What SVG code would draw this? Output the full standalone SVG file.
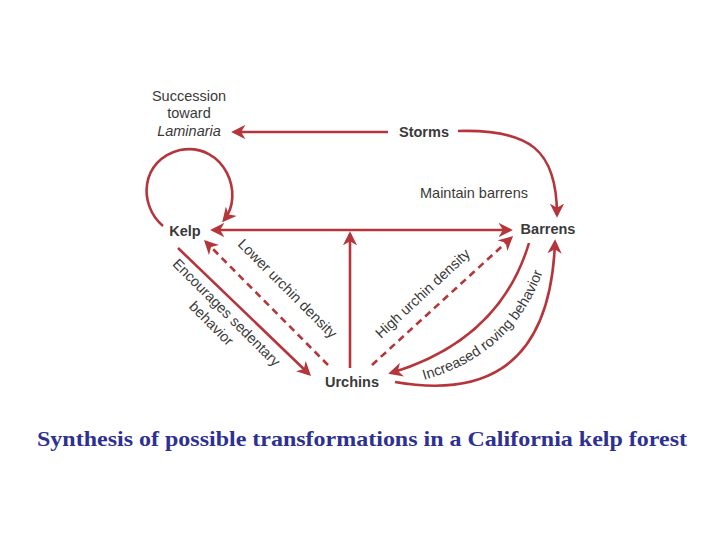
<svg xmlns="http://www.w3.org/2000/svg" width="720" height="540" viewBox="0 0 720 540">
<style>
.c{fill:none;stroke:#b5353b;stroke-width:2.6}
.d{stroke-dasharray:7,5}
.t{font-family:"Liberation Sans",Arial,sans-serif;font-size:14.5px;fill:#3a3a3a}
.b{font-weight:bold;font-size:14.5px}
</style>
<defs>
<marker id="a" viewBox="0 0 10 10" refX="8" refY="5" markerWidth="5.5" markerHeight="5.5" orient="auto-start-reverse" markerUnits="strokeWidth">
<path d="M0,0 L10,5 L0,10 L3,5 z" fill="#b5353b"/>
</marker>
<path id="tp" d="M424,380 Q522,352 548,255"/>
</defs>
<rect width="720" height="540" fill="#fff"/>
<g id="connectors">
<path class="c" d="M388,132 H234" marker-end="url(#a)"/>
<path class="c" d="M458,131 C530,129 557,150 557,215" marker-end="url(#a)"/>
<path class="c" d="M163,226 C138,205 140,160 180,150 C225,142 245,195 224,220" marker-end="url(#a)"/>
<path class="c" d="M213,230 H510" marker-start="url(#a)" marker-end="url(#a)"/>
<path class="c" d="M350,368 V234" marker-end="url(#a)"/>
<path class="c" d="M178,248 L309,374" marker-end="url(#a)"/>
<path class="c d" d="M328,365 L206,242" marker-end="url(#a)"/>
<path class="c d" d="M372,365 L511,238" marker-end="url(#a)"/>
<path class="c" d="M529,243 Q500,340 391,373" marker-end="url(#a)"/>
<path class="c" d="M395,382 C470,395 550,380 555,242" marker-end="url(#a)"/>
</g>
<g id="storms"><text class="t b" x="424" y="137" text-anchor="middle">Storms</text></g>
<g id="succession"><text class="t" x="189" y="101" text-anchor="middle">Succession</text><text class="t" x="189" y="118" text-anchor="middle">toward</text><text class="t" x="189" y="136" text-anchor="middle" font-style="italic">Laminaria</text></g>
<g id="kelp"><text class="t b" x="185" y="236" text-anchor="middle">Kelp</text></g>
<g id="barrens"><text class="t b" x="548" y="234" text-anchor="middle">Barrens</text></g>
<g id="urchins"><text class="t b" x="352" y="387" text-anchor="middle">Urchins</text></g>
<g id="labels">
<text class="t" x="474" y="198" text-anchor="middle">Maintain barrens</text>
<text class="t" transform="translate(284,292) rotate(45)" text-anchor="middle">Lower urchin density</text>
<text class="t" transform="translate(223,316) rotate(45)" text-anchor="middle">Encourages sedentary</text>
<text class="t" transform="translate(208,327) rotate(45)" text-anchor="middle">behavior</text>
<text class="t" transform="translate(426,297) rotate(-43)" text-anchor="middle">High urchin density</text>
<text class="t"><textPath href="#tp">Increased roving behavior</textPath></text>
</g>
<text x="362" y="446" text-anchor="middle" font-family="Liberation Serif,Times New Roman,serif" font-weight="bold" font-size="21" textLength="650" lengthAdjust="spacingAndGlyphs" fill="#2e3192">Synthesis of possible transformations in a California kelp forest</text>
</svg>
